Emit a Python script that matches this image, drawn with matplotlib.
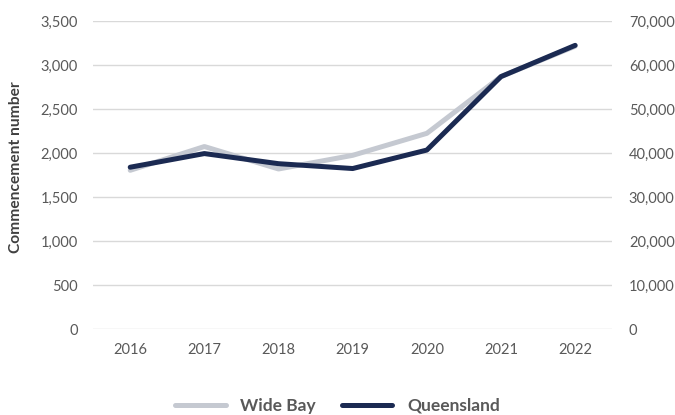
import matplotlib.pyplot as plt
from matplotlib.ticker import FuncFormatter, MultipleLocator

years = ["2016", "2017", "2018", "2019", "2020", "2021", "2022"]
wide_bay = [1805, 2075, 1820, 1975, 2225, 2870, 3215]
queensland = [36800, 39900, 37600, 36500, 40700, 57400, 64500]

grey = "#c5c9d1"
navy = "#1b2a52"
text_grey = "#595959"

plt.rcParams["font.family"] = ["Lato", "DejaVu Sans"]

fig = plt.figure(figsize=(6.75, 4.15), dpi=100)
ax = fig.add_axes([0.138, 0.207, 0.769, 0.742])
ax2 = ax.twinx()

x = list(range(len(years)))
l1, = ax.plot(x, wide_bay, color=grey, lw=3.6, solid_capstyle="round", zorder=3, label="Wide Bay")
l2, = ax2.plot(x, queensland, color=navy, lw=3.6, solid_capstyle="round", zorder=4, label="Queensland")

ax.set_xlim(-0.5, 6.5)
ax.set_ylim(0, 3500)
ax2.set_ylim(0, 70000)
ax.yaxis.set_major_locator(MultipleLocator(500))
ax2.yaxis.set_major_locator(MultipleLocator(10000))
fmt = FuncFormatter(lambda v, p: f"{int(v):,}")
ax.yaxis.set_major_formatter(fmt)
ax2.yaxis.set_major_formatter(fmt)

ax.set_xticks(x)
ax.set_xticklabels(years)
ax.grid(axis="y", color="#d9d9d9", lw=1)
ax.set_axisbelow(True)

for a in (ax, ax2):
    for s in a.spines.values():
        s.set_visible(False)
    a.tick_params(length=0, labelsize=10.5, labelcolor=text_grey)
ax.tick_params(axis="x", pad=10)
ax.tick_params(axis="y", pad=11)
ax2.tick_params(axis="y", pad=12)

ax.set_ylabel("Commencement number", fontsize=11.2, fontweight="bold", color="#404040")
ax.yaxis.set_label_coords(-0.135, 0.525)

fig.legend(handles=[l1, l2], loc="lower center", bbox_to_anchor=(0.5, -0.035), ncol=2,
           frameon=False, handlelength=2.9, handletextpad=0.85, columnspacing=1.5,
           prop={"size": 12.5, "weight": "bold"}, labelcolor=text_grey)

fig.savefig("out.png", dpi=100)
